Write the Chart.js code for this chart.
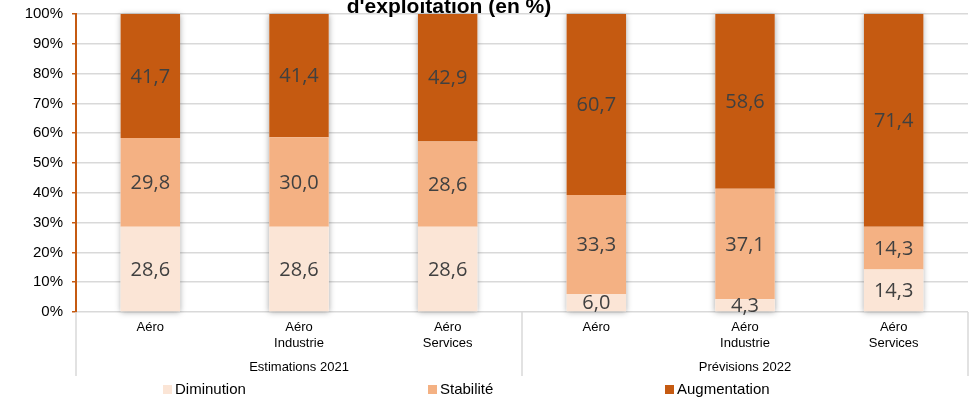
<!DOCTYPE html>
<html>
<head>
<meta charset="utf-8">
<script src="https://cdn.jsdelivr.net/npm/chart.js@4/dist/chart.umd.min.js"></script>
<style>
  html, body { margin: 0; padding: 0; background: #fff; }
  #wrap { width: 975px; height: 401px; }
</style>
</head>
<body>
<div id="wrap"><canvas id="chart" width="975" height="401"></canvas></div>
<script>
// DATA

const categories = [
  ['Aéro'],
  ['Aéro', 'Industrie'],
  ['Aéro', 'Services'],
  ['Aéro'],
  ['Aéro', 'Industrie'],
  ['Aéro', 'Services'],
];
const groups = ['Estimations 2021', 'Prévisions 2022'];
const seriesNames = ['Diminution', 'Stabilité', 'Augmentation'];
const diminution = [28.6, 28.6, 28.6, 6.0, 4.3, 14.3];
const stabilite = [29.8, 30.0, 28.6, 33.3, 37.1, 14.3];
const augmentation = [41.7, 41.4, 42.9, 60.7, 58.6, 71.4];
const titleText = "d'exploitation (en %)";

const colors = ['#FBE5D6', '#F4B183', '#C55A11'];
const orange = '#C55A11';
const gridGrey = '#d9d9d9';

// Soft shadow behind each whole stack

const stackShadow = {
  id: 'stackShadow',
  beforeDatasetsDraw(chart) {
    const { ctx, chartArea } = chart;
    const bottomMeta = chart.getDatasetMeta(0);
    const topMeta = chart.getDatasetMeta(chart.data.datasets.length - 1);
    ctx.save();
    ctx.shadowColor = 'rgba(0,0,0,0.35)';
    ctx.shadowBlur = 6;
    ctx.shadowOffsetX = 0;
    ctx.shadowOffsetY = 1;
    ctx.fillStyle = '#fff';
    topMeta.data.forEach((el, i) => {
      const base = bottomMeta.data[i].base;
      const top = Math.max(el.y, chartArea.top);
      ctx.fillRect(el.x - el.width / 2, top, el.width, base - top);
    });
    ctx.restore();
  },
};

// Values written in the middle of each segment

const valueLabels = {
  id: 'valueLabels',
  afterDatasetsDraw(chart) {
    const { ctx } = chart;
    ctx.save();
    ctx.font = '20px "Open Sans"';
    ctx.fillStyle = '#404040';
    ctx.textAlign = 'center';
    ctx.textBaseline = 'middle';
    chart.data.datasets.forEach((ds, d) => {
      chart.getDatasetMeta(d).data.forEach((el, i) => {
        const txt = ds.data[i].toFixed(1).replace('.', ',');
        ctx.fillText(txt, el.x, (el.y + el.base) / 2 + 1);
      });
    });
    ctx.restore();
  },
};

// Group separators, clipped title and legend

const decorations = {
  id: 'decorations',
  afterDraw(chart) {
    const { ctx, chartArea, scales } = chart;
    const bottom = scales.x2.bottom - 4;
    ctx.save();
    ctx.strokeStyle = gridGrey;
    ctx.lineWidth = 1.5;
    const xs = [chartArea.left, (chartArea.left + chartArea.right) / 2, chartArea.right];
    xs.forEach((x) => {
      ctx.beginPath();
      ctx.moveTo(x, chartArea.bottom);
      ctx.lineTo(x, bottom);
      ctx.stroke();
    });

    // title (top line is cut off in the original)
    ctx.font = 'bold 21px "Liberation Sans", Arial';
    ctx.fillStyle = '#000';
    ctx.textAlign = 'center';
    ctx.textBaseline = 'alphabetic';
    ctx.fillText(titleText, 449, 13);

    // legend
    const legendX = [163, 428, 665];
    ctx.font = '15px "Liberation Sans", Arial';
    ctx.textAlign = 'left';
    ctx.textBaseline = 'middle';
    seriesNames.forEach((name, i) => {
      ctx.fillStyle = colors[i];
      ctx.fillRect(legendX[i], 385, 9, 9);
      ctx.fillStyle = '#000';
      ctx.fillText(name, legendX[i] + 12, 390);
    });
    ctx.restore();
  },
};

new Chart(document.getElementById('chart'), {
  type: 'bar',
  data: {
    labels: categories,
    datasets: [
      { label: seriesNames[0], data: diminution, backgroundColor: colors[0] },
      { label: seriesNames[1], data: stabilite, backgroundColor: colors[1] },
      { label: seriesNames[2], data: augmentation, backgroundColor: colors[2] },
    ],
  },
  options: {
    responsive: false,
    animation: false,
    devicePixelRatio: 1,
    layout: { padding: { top: 14, right: 7, bottom: 21, left: 0 } },
    datasets: {
      bar: { categoryPercentage: 1, barPercentage: 0.4, borderWidth: 0 },
    },
    scales: {
      x: {
        stacked: true,
        offset: true,
        grid: { display: false, drawTicks: false },
        border: { display: false },
        ticks: {
          padding: 8,
          color: '#000',
          font: { family: '"Liberation Sans", Arial', size: 13 },
          maxRotation: 0,
          autoSkip: false,
        },
        afterFit: (scale) => { scale.height = 44; },
      },
      x2: {
        type: 'category',
        position: 'bottom',
        labels: groups,
        offset: true,
        grid: { display: false, drawTicks: false },
        border: { display: false },
        ticks: {
          padding: 4,
          color: '#000',
          font: { family: '"Liberation Sans", Arial', size: 13 },
          maxRotation: 0,
        },
        afterFit: (scale) => { scale.height = 24; },
      },
      y: {
        stacked: true,
        min: 0,
        max: 100,
        ticks: {
          stepSize: 10,
          padding: 9,
          color: '#000',
          font: { family: '"Liberation Sans", Arial', size: 15 },
          callback: (v) => v + '%',
        },
        grid: {
          color: gridGrey,
          lineWidth: 1.5,
          tickColor: orange,
          tickLength: 4,
        },
        border: { color: orange, width: 2 },
        afterFit: (scale) => {
          scale.width = 76;
          scale.paddingTop = 0;
          scale.paddingBottom = 0;
        },
      },
    },
    plugins: {
      legend: { display: false },
      tooltip: { enabled: false },
    },
  },
  plugins: [stackShadow, valueLabels, decorations],
});
</script>
</body>
</html>
